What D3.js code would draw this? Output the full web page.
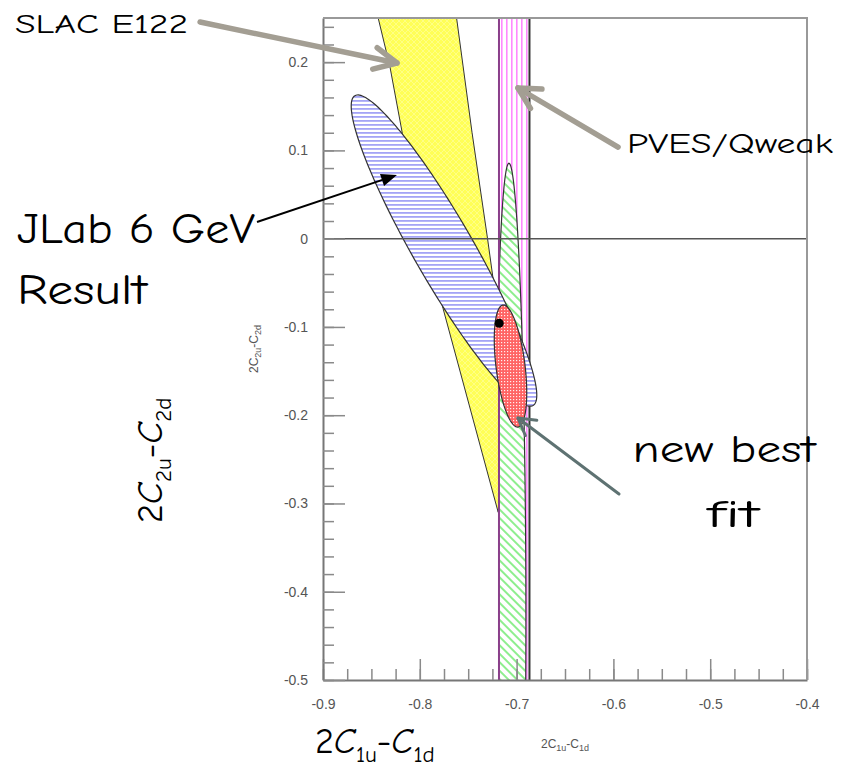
<!DOCTYPE html>
<html>
<head>
<meta charset="utf-8">
<script src="https://cdn.jsdelivr.net/npm/d3@7"></script>
<style>
  body { margin: 0; background: #fff; }
  svg { display: block; }
</style>
</head>
<body>
<div id="chart"></div>
<script>
// axes
const xDomain = [-0.9, -0.4];
const yDomain = [-0.5, 0.25];
const xTicks = [-0.9, -0.8, -0.7, -0.6, -0.5, -0.4];
const yTicks = [-0.5, -0.4, -0.3, -0.2, -0.1, 0, 0.1, 0.2];
const xMinorStep = 0.025;
const yMinorStep = 0.02;
const xTitleSubs = ['1u', '1d'];
const yTitleSubs = ['2u', '2d'];

// SLAC E122 allowed region (outline, data units)
const slacE122 = [[-0.843, 0.25], [-0.762, 0.25], [-0.746, 0.12], [-0.730, 0.0],
  [-0.707, -0.183], [-0.719, -0.31], [-0.776, -0.079], [-0.818, 0.119], [-0.8308, 0.1945]];

// PVES / Qweak vertical band
const pvesBand = [-0.7182, -0.6867];

// ellipses: centre, then two conjugate half-axes
const jlabCenter = [-0.775, -0.0135];
const jlabAxes = [[0.092, -0.1755], [0.0269, 0.0169]];
const apvCenter = [-0.706, -0.374];
const apvAxes = [[-0.0019, 0.4595], [0.0155, 0]];
const fitCenter = [-0.7063, -0.1443];
const fitAxes = [[0.00775, -0.0691], [0.01487, 0.0020]];
const bestFitPoint = [-0.718, -0.0958];

// annotations (data units, some outside the frame)
const arrowSlac = [[-1.027, 0.2454], [-0.8236, 0.199]];
const arrowPves = [[-0.5952, 0.1038], [-0.6986, 0.1707]];
const arrowJlab = [[-0.9682, 0.0189], [-0.8236, 0.0721]];
const arrowFit = [[-0.5942, -0.2893], [-0.6986, -0.2032]];

const W = 844, H = 768;
const frame = {left: 323, right: 807, top: 18, bottom: 680};

const x = d3.scaleLinear().domain(xDomain).range([frame.left, frame.right]);
const y = d3.scaleLinear().domain(yDomain).range([frame.bottom, frame.top]);

const svg = d3.select('#chart').append('svg')
    .attr('width', W)
    .attr('height', H);

const defs = svg.append('defs');

// fill patterns
let p = defs.append('pattern').attr('id', 'pYellow')
    .attr('patternUnits', 'userSpaceOnUse').attr('width', 6).attr('height', 6);
p.append('rect').attr('width', 6).attr('height', 6).attr('fill', '#ffff57');
p.append('path').attr('d', 'M0,0L6,6M6,0L0,6')
    .attr('stroke', '#fff').attr('stroke-opacity', 0.35).attr('stroke-width', 0.8);

p = defs.append('pattern').attr('id', 'pBlue')
    .attr('patternUnits', 'userSpaceOnUse').attr('width', 4).attr('height', 4);
p.append('rect').attr('width', 4).attr('height', 4).attr('fill', '#fff');
p.append('rect').attr('width', 4).attr('height', 1.8).attr('fill', '#a4a4f6');

p = defs.append('pattern').attr('id', 'pGreen')
    .attr('patternUnits', 'userSpaceOnUse').attr('width', 6).attr('height', 6)
    .attr('patternTransform', 'rotate(45)');
p.append('rect').attr('width', 6).attr('height', 6).attr('fill', '#fff');
p.append('rect').attr('width', 6).attr('height', 2).attr('fill', '#8eee8e');

p = defs.append('pattern').attr('id', 'pPink')
    .attr('patternUnits', 'userSpaceOnUse').attr('width', 5).attr('height', 10)
    .attr('x', x(pvesBand[0]));
p.append('rect').attr('width', 5).attr('height', 10).attr('fill', '#fff');
p.append('rect').attr('x', 2).attr('width', 1.6).attr('height', 10).attr('fill', '#ff88ff');

p = defs.append('pattern').attr('id', 'pRed')
    .attr('patternUnits', 'userSpaceOnUse').attr('width', 3).attr('height', 3);
p.append('rect').attr('width', 3).attr('height', 3).attr('fill', '#ff6464');
p.append('rect').attr('width', 1.2).attr('height', 1.2).attr('fill', '#fff').attr('fill-opacity', 0.9);

// clip paths
defs.append('clipPath').attr('id', 'clipPlot')
  .append('rect')
    .attr('x', frame.left).attr('y', frame.top)
    .attr('width', frame.right - frame.left).attr('height', frame.bottom - frame.top);

defs.append('clipPath').attr('id', 'clipBand')
  .append('rect')
    .attr('x', x(pvesBand[0])).attr('y', frame.top)
    .attr('width', x(pvesBand[1]) - x(pvesBand[0])).attr('height', frame.bottom - frame.top);

const line = d3.line().x(d => x(d[0])).y(d => y(d[1])).curve(d3.curveLinearClosed);

function ellipse(c, axes) {
    const pts = [];
    for (let i = 0; i < 180; i++) {
        const t = i / 180 * 2 * Math.PI;
        pts.push([c[0] + axes[0][0] * Math.cos(t) + axes[1][0] * Math.sin(t),
                  c[1] + axes[0][1] * Math.cos(t) + axes[1][1] * Math.sin(t)]);
    }
    return pts;
}

const plot = svg.append('g').attr('clip-path', 'url(#clipPlot)');

// SLAC E122
plot.append('path')
    .attr('d', line(slacE122))
    .attr('fill', 'url(#pYellow)')
    .attr('stroke', '#333')
    .attr('stroke-width', 1);

// PVES band
plot.append('rect')
    .attr('x', x(pvesBand[0]))
    .attr('y', frame.top)
    .attr('width', x(pvesBand[1]) - x(pvesBand[0]))
    .attr('height', frame.bottom - frame.top)
    .attr('fill', 'url(#pPink)');

// APV ellipse, only inside band
plot.append('g').attr('clip-path', 'url(#clipBand)')
  .append('path')
    .attr('d', line(ellipse(apvCenter, apvAxes)))
    .attr('fill', 'url(#pGreen)')
    .attr('stroke', '#333')
    .attr('stroke-width', 1.2);

plot.append('line')
    .attr('x1', x(pvesBand[0])).attr('x2', x(pvesBand[0]))
    .attr('y1', frame.top).attr('y2', frame.bottom)
    .attr('stroke', '#8a3f8a').attr('stroke-width', 2);
plot.append('line')
    .attr('x1', x(pvesBand[1])).attr('x2', x(pvesBand[1]))
    .attr('y1', frame.top).attr('y2', frame.bottom)
    .attr('stroke', '#333').attr('stroke-width', 2);

// JLab 6 GeV ellipse
plot.append('path')
    .attr('d', line(ellipse(jlabCenter, jlabAxes)))
    .attr('fill', 'url(#pBlue)')
    .attr('stroke', '#333')
    .attr('stroke-width', 1.2);

// combined fit
plot.append('path')
    .attr('d', line(ellipse(fitCenter, fitAxes)))
    .attr('fill', 'url(#pRed)')
    .attr('stroke', '#333')
    .attr('stroke-width', 1.2);

plot.append('circle')
    .attr('cx', x(bestFitPoint[0]))
    .attr('cy', y(bestFitPoint[1]))
    .attr('r', 4.5)
    .attr('fill', '#000');

// zero line
plot.append('line')
    .attr('x1', frame.left).attr('x2', frame.right)
    .attr('y1', y(0)).attr('y2', y(0))
    .attr('stroke', '#555').attr('stroke-width', 1.5);

// axes
const fmt = d => d === 0 ? '0' : d.toFixed(1);
const xMinor = d3.range(xDomain[0], xDomain[1] + 1e-9, xMinorStep);
const yMinor = d3.range(yDomain[0], yDomain[1] + 1e-9, yMinorStep);

svg.append('g')
    .attr('class', 'x-axis')
    .attr('transform', 'translate(0,' + frame.bottom + ')')
    .call(d3.axisBottom(x).tickValues(xTicks).tickSize(-21).tickSizeOuter(0).tickPadding(19).tickFormat(fmt));
svg.append('g')
    .attr('class', 'x-minor')
    .attr('transform', 'translate(0,' + frame.bottom + ')')
    .call(d3.axisBottom(x).tickValues(xMinor).tickSize(-11).tickFormat(''))
    .select('.domain').remove();

svg.append('g')
    .attr('class', 'y-axis')
    .attr('transform', 'translate(' + frame.left + ',0)')
    .call(d3.axisLeft(y).tickValues(yTicks).tickSize(-22).tickSizeOuter(0).tickPadding(15).tickFormat(fmt));
svg.append('g')
    .attr('class', 'y-minor')
    .attr('transform', 'translate(' + frame.left + ',0)')
    .call(d3.axisLeft(y).tickValues(yMinor).tickSize(-11).tickFormat(''))
    .select('.domain').remove();

svg.selectAll('.x-axis line, .y-axis line, .x-minor line, .y-minor line')
    .attr('stroke', '#8a8a8a').attr('stroke-width', 1.5);
svg.selectAll('.x-axis .domain, .y-axis .domain')
    .attr('stroke', '#777').attr('stroke-width', 2);
svg.selectAll('.x-axis text, .y-axis text')
    .attr('fill', '#555')
    .attr('font-family', '"Liberation Sans", Arial, sans-serif')
    .attr('font-size', 14);

// top and right frame
svg.append('path')
    .attr('d', `M${frame.left},${frame.top}H${frame.right}V${frame.bottom}`)
    .attr('fill', 'none')
    .attr('stroke', '#999')
    .attr('stroke-width', 2);

// axis titles: 2C_a - C_b
function axisTitle(g, subs, big, small, shift, italic) {
    const t = g.append('text');
    const spec = [['2', big, 0], ['C', big, 0, italic], [subs[0], small, shift],
                  ['-', big, -shift], ['C', big, 0, italic], [subs[1], small, shift]];
    spec.forEach(([s, fs, dy, it]) => {
        t.append('tspan')
            .attr('font-size', fs)
            .attr('dy', dy)
            .attr('font-style', it ? 'italic' : null)
            .text(s);
    });
    return t;
}

// small ones from the plotting package
const smallFont = '"Liberation Sans", Arial, sans-serif';
axisTitle(svg.append('g').attr('transform', 'translate(565,748)'), xTitleSubs, 12, 9, 3, false)
    .attr('text-anchor', 'middle').attr('fill', '#555').attr('font-family', smallFont);
axisTitle(svg.append('g').attr('transform', 'translate(258,349) rotate(-90)'), yTitleSubs, 12, 9, 3, false)
    .attr('text-anchor', 'middle').attr('fill', '#555').attr('font-family', smallFont);

// big hand-written style ones
const bigFont = '"Comic Sans MS", "Comic Neue", "Open Sans", sans-serif';
axisTitle(svg.append('g').attr('transform', 'translate(315,753)'), xTitleSubs, 36, 23, 9, true)
    .attr('font-family', bigFont).attr('fill', '#000');
axisTitle(svg.append('g').attr('transform', 'translate(162,523) rotate(-90)'), yTitleSubs, 36, 23, 9, true)
    .attr('font-family', bigFont).attr('fill', '#000');

// arrows
function arrow(pts, color, width, head, angle, filled) {
    const x1 = x(pts[0][0]), y1 = y(pts[0][1]);
    const x2 = x(pts[1][0]), y2 = y(pts[1][1]);
    const th = Math.atan2(y2 - y1, x2 - x1);
    const a = angle * Math.PI / 180;
    const p1 = [x2 - head * Math.cos(th - a), y2 - head * Math.sin(th - a)];
    const p2 = [x2 - head * Math.cos(th + a), y2 - head * Math.sin(th + a)];
    const g = svg.append('g');
    if (filled) {
        const bx = x2 - head * 0.9 * Math.cos(th), by = y2 - head * 0.9 * Math.sin(th);
        g.append('line').attr('x1', x1).attr('y1', y1).attr('x2', bx).attr('y2', by)
            .attr('stroke', color).attr('stroke-width', width);
        g.append('path').attr('d', `M${x2},${y2}L${p1}L${p2}Z`).attr('fill', color);
    } else {
        g.append('line').attr('x1', x1).attr('y1', y1).attr('x2', x2).attr('y2', y2)
            .attr('stroke', color).attr('stroke-width', width).attr('stroke-linecap', 'round');
        g.append('path').attr('d', `M${p1}L${x2},${y2}L${p2}`)
            .attr('fill', 'none').attr('stroke', color).attr('stroke-width', width)
            .attr('stroke-linecap', 'round').attr('stroke-linejoin', 'round');
    }
}

arrow(arrowSlac, '#a39e93', 5.5, 25, 26, false);
arrow(arrowPves, '#a39e93', 5.5, 24, 28, false);
arrow(arrowJlab, '#000', 2, 17, 22, true);
arrow(arrowFit, '#5e7272', 3, 19, 30, false);

// annotation labels
const labels = [
    {text: 'SLAC E122', pos: [-1.2182, 0.233], size: 27, len: 173, anchor: 'start'},
    {text: 'JLab 6 GeV', pos: [-1.2161, -0.005], size: 42, len: 238, anchor: 'start'},
    {text: 'Result', pos: [-1.2161, -0.074], size: 42, len: 130, anchor: 'start'},
    {text: 'PVES/Qweak', pos: [-0.586, 0.097], size: 29, len: 206, anchor: 'start'},
    {text: 'new best', pos: [-0.4857, -0.253], size: 38, len: 183, anchor: 'middle'},
    {text: 'fit', pos: [-0.4764, -0.3267], size: 38, len: 52, anchor: 'middle'}
];

svg.selectAll('.note')
    .data(labels)
    .join('text')
    .attr('class', 'note')
    .attr('x', d => x(d.pos[0]))
    .attr('y', d => y(d.pos[1]))
    .attr('text-anchor', d => d.anchor)
    .attr('font-family', bigFont)
    .attr('font-size', d => d.size)
    .attr('textLength', d => d.len)
    .attr('lengthAdjust', 'spacingAndGlyphs')
    .attr('fill', '#000')
    .text(d => d.text);
</script>
</body>
</html>
